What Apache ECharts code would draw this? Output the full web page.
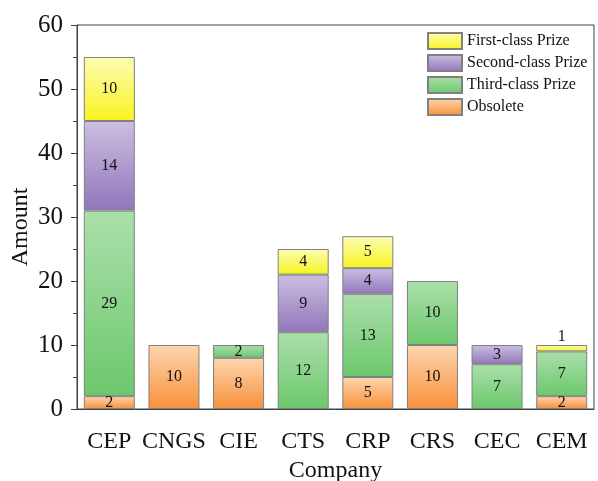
<!DOCTYPE html>
<html>
<head>
<meta charset="utf-8">
<script src="https://cdn.jsdelivr.net/npm/echarts@6/dist/echarts.min.js"></script>
<style>html,body{margin:0;padding:0;background:#fff}#c{width:598px;height:481px}</style>
</head>
<body>
<div id="c"></div>
<script>
var categories = ['CEP', 'CNGS', 'CIE', 'CTS', 'CRP', 'CRS', 'CEC', 'CEM'];
var obsolete = [2, 10, 8, null, 5, 10, null, 2];
var thirdClass = [29, null, 2, 12, 13, 10, 7, 7];
var secondClass = [14, null, null, 9, 4, null, 3, null];
var firstClass = [10, null, null, 4, 5, null, null, 1];
var yTicks = { min: 0, max: 60, interval: 10 };

var FONT = '"Liberation Serif", "Times New Roman", serif';
function grad(top, bottom) {
  return { type: 'linear', x: 0, y: 0, x2: 0, y2: 1,
    colorStops: [{ offset: 0, color: top }, { offset: 1, color: bottom }] };
}
function mk(name, data, top, bottom) {
  return {
    name: name, type: 'bar', stack: 'total', data: data, barWidth: 51,
    itemStyle: { color: grad(top, bottom), borderColor: '#808080', borderWidth: 1 },
    label: {
      show: true, position: 'inside', fontFamily: FONT, fontSize: 16, color: '#111',
      formatter: function (p) { return p.value == null ? '' : p.value; }
    },
    emphasis: { disabled: true }
  };
}
var sObs = mk('Obsolete', obsolete, '#fdd6b0', '#f8903a');
var sThird = mk('Third-class Prize', thirdClass, '#abdfab', '#6cc86c');
var sSecond = mk('Second-class Prize', secondClass, '#ccbee1', '#9276ba');
var sFirst = mk('First-class Prize', firstClass, '#fdfdb4', '#f7f31e');
sFirst.label.formatter = function (p) { return p.value == null ? '' : (p.value <= 1 ? '' : p.value); };
var topLabel = {
  name: 'First-class Prize', type: 'bar', stack: 'total', barWidth: 51, silent: true,
  data: firstClass.map(function (v) { return v != null && v <= 1 ? 0 : null; }),
  itemStyle: { color: 'transparent', borderWidth: 0 },
  label: { show: true, position: 'top', distance: 0, fontFamily: FONT, fontSize: 16, color: '#111',
    formatter: function (p) { return firstClass[p.dataIndex]; } },
  legendHoverLink: false
};

var chart = echarts.init(document.getElementById('c'), null, { renderer: 'canvas' });
chart.setOption({
  animation: false,
  backgroundColor: '#fff',
  grid: { left: 77, right: 4, top: 25, bottom: 72, containLabel: false, outerBoundsMode: 'none',
    show: true, borderColor: '#404040', borderWidth: 1, backgroundColor: 'transparent' },
  legend: {
    data: ['First-class Prize', 'Second-class Prize', 'Third-class Prize', 'Obsolete'],
    orient: 'vertical', left: 427, top: 32, padding: 0, itemGap: 4,
    itemWidth: 34, itemHeight: 16, icon: 'rect',
    textStyle: { fontFamily: FONT, fontSize: 16, color: '#111' },
    selectedMode: false
  },
  xAxis: {
    type: 'category', data: categories,
    name: 'Company', nameLocation: 'middle', nameGap: 48,
    nameTextStyle: { fontFamily: FONT, fontSize: 24, color: '#111' },
    axisLine: { lineStyle: { color: '#404040', width: 1 } },
    axisTick: { alignWithLabel: true, length: 6, lineStyle: { color: '#404040' } },
    axisLabel: { fontFamily: FONT, fontSize: 24, color: '#111', margin: 21, interval: 0 }
  },
  yAxis: {
    type: 'value', min: yTicks.min, max: yTicks.max, interval: yTicks.interval,
    name: 'Amount', nameLocation: 'middle', nameGap: 44, nameMoveOverlap: false,
    nameTextStyle: { fontFamily: FONT, fontSize: 24, color: '#111', padding: [0, 20, 0, 0] },
    axisLine: { show: true, lineStyle: { color: '#404040', width: 1 } },
    axisTick: { show: true, length: 6, lineStyle: { color: '#404040' } },
    minorTick: { show: true, splitNumber: 2, length: 4, lineStyle: { color: '#404040' } },
    splitLine: { show: false },
    axisLabel: { fontFamily: FONT, fontSize: 25, color: '#111', margin: 14 }
  },
  series: [sObs, sThird, sSecond, sFirst, topLabel]
});
</script>
</body>
</html>
